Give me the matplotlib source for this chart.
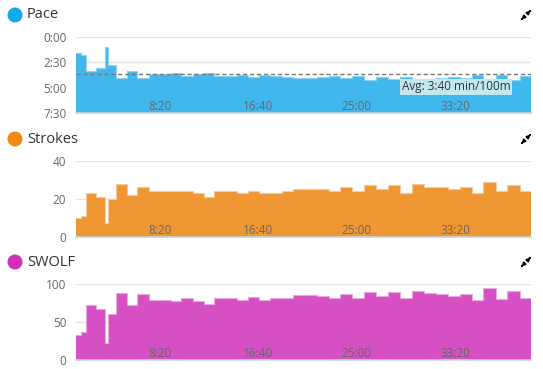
import numpy as np
import matplotlib
matplotlib.use('Agg')
import matplotlib.pyplot as plt
from matplotlib.patches import Circle, FancyArrowPatch
from matplotlib.transforms import IdentityTransform

plt.rcParams['font.family'] = ['Open Sans', 'DejaVu Sans']

# per length (25 m pool)
pace = [92, 104, 200, 184, 60, 164, 240, 200, 244, 220, 220, 212, 232, 222,
        212, 228, 228, 224, 236, 224, 232, 234, 242, 242, 236, 228, 244, 232,
        252, 236, 248, 236, 252, 248, 244, 236, 244, 224, 264, 224, 256, 232]
strokes = [10, 11, 23, 21, 7, 20, 28, 22, 26, 24, 24, 24, 24, 23,
           21, 24, 24, 23, 24, 23, 23, 24, 25, 25, 25, 24, 26, 24,
           27, 25, 27, 23, 28, 26, 26, 25, 26, 23, 29, 24, 27, 24]
swolf = [33, 37, 73, 67, 22, 61, 88, 72, 87, 79, 79, 77, 82, 78,
         74, 81, 81, 79, 83, 79, 81, 82, 85, 85, 84, 81, 87, 82,
         90, 84, 89, 82, 91, 88, 87, 84, 87, 79, 95, 80, 91, 82]
start_time = 75
pool_len = 25
avg_pace = 220

time_ticks = [500, 1000, 1500, 2000]
time_labels = ['8:20', '16:40', '25:00', '33:20']

panels = [
    ('Pace', pace, '#11a9ed', '#37b4ec', '#8fd3f3', [0, 150, 300, 450], ['0:00', '2:30', '5:00', '7:30']),
    ('Strokes', strokes, '#f08a12', '#ef9228', '#f7c9a0', [0, 20, 40], ['0', '20', '40']),
    ('SWOLF', swolf, '#d030b8', '#d546c0', '#eaa8e0', [0, 50, 100], ['0', '50', '100']),
]

W, H = 543, 369
fig = plt.figure(figsize=(W / 100, H / 100), dpi=100)
px = IdentityTransform()

edges = start_time + np.concatenate([[0], np.cumsum(np.array(pace) * pool_len / 100)])

# top pixel of plot area / title row for each panel
tops = [37, 160.7, 284]
title_y = [15, 139, 262]

for i, (name, vals, dot, fill, edge, yt, ylab) in enumerate(panels):
    top = tops[i]
    ax = fig.add_axes([76 / W, 1 - (top + 76) / H, 455 / W, 76 / H])
    for v in yt:
        ax.axhline(v, color='#e3e3e3', lw=1, zorder=0.5)
    if name == 'Pace':
        ax.stairs(vals, edges, baseline=yt[-1], fill=True, color=fill, alpha=0.95, zorder=1)
        ax.stairs(vals, edges, baseline=None, color=edge, lw=0.8, zorder=1.1)
        ax.set_ylim(yt[-1], yt[0])
        ax.axhline(avg_pace, color='#777777', lw=1, ls=(0, (3, 2)), zorder=2)
        ax.text(0.955, 0.345, 'Avg: 3:40 min/100m', transform=ax.transAxes,
                ha='right', va='center', fontsize=8.5, color='#333333', zorder=3,
                bbox=dict(boxstyle='square,pad=0.15', fc='#c3e7ef', ec='none'))
    else:
        ax.stairs(vals, edges, baseline=0, fill=True, color=fill, alpha=0.95, zorder=1)
        ax.stairs(vals, edges, baseline=None, color=edge, lw=0.8, zorder=1.1)
        ax.set_ylim(yt[0], yt[-1])
    ax.set_xlim(edges[0], edges[-1])
    ax.set_yticks(yt)
    ax.set_yticklabels(ylab)
    ax.set_xticks(time_ticks)
    ax.set_xticklabels(time_labels)
    for s in ['top', 'left', 'right']:
        ax.spines[s].set_visible(False)
    ax.spines['bottom'].set_color('#c2d5e4')
    ax.spines['bottom'].set_linewidth(1.2)
    ax.spines['bottom'].set_zorder(3)
    ax.tick_params(axis='y', length=0, pad=7, labelsize=8.5, labelcolor='#666666')
    ax.tick_params(axis='x', length=0, pad=-9.5, labelsize=8.5, labelcolor='#666666')

    # title with coloured dot
    cy = H - title_y[i]
    fig.patches.append(Circle((15, cy), 6.8, color=dot, transform=px, figure=fig))
    fig.text(27 / W, cy / H, name, fontsize=10.5, color='#333333',
             ha='left', va='center')
    # expand icon (two small outward arrows)
    for a, b in [((528, cy + 2), (532.5, cy + 6.5)), ((524, cy - 2), (519.5, cy - 6.5))]:
        fig.patches.append(FancyArrowPatch(a, b, arrowstyle='-|>', mutation_scale=5,
                                           color='black', lw=1.2, transform=px, figure=fig))

plt.savefig('out.png', dpi=100)
